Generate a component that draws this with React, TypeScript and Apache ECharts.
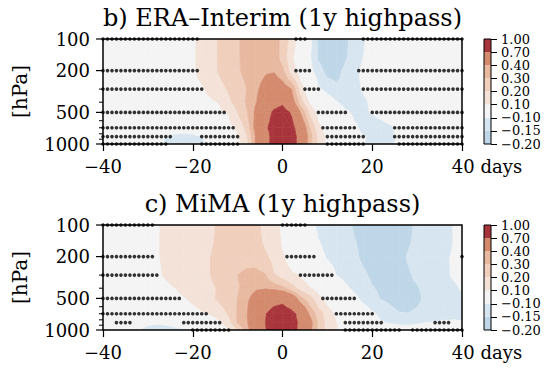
import React, { useEffect, useRef } from "react";
import * as echarts from "echarts";

// ---------- data ----------
const LAGS = [-40, -38, -36, -34, -32, -30, -28, -26, -24, -22, -20, -18, -16, -14, -12, -10, -8, -6, -4, -2, 0, 2, 4, 6, 8, 10, 12, 14, 16, 18, 20, 22, 24, 26, 28, 30, 32, 34, 36, 38, 40];
const LEVELS = [100, 150, 200, 300, 400, 500, 700, 850, 1000];
const CONTOUR_LEVELS = [-0.2, -0.15, -0.1, 0.1, 0.2, 0.3, 0.4, 0.7, 1.0];
const CONTOUR_LABELS = ["\u22120.20", "\u22120.15", "\u22120.10", "0.10", "0.20", "0.30", "0.40", "0.70", "1.00"];
const BAND_COLORS = ["#bed6e7", "#d6e5f0", "#f4f4f4", "#f4e2d8", "#f0cfbd", "#e8b89f", "#d38a6d", "#a7343a"];
const Y_TICKS = [100, 200, 500, 1000];
const Y_MINOR_TICKS = [300, 400, 600, 700, 800, 900];
const TITLES = ["b) ERA\u2013Interim (1y highpass)", "c) MiMA (1y highpass)"];

// ERA-Interim field, one row per pressure level, lags -40..40 step 2
const era100 = [0.02, 0.02, 0.03, 0.03, 0.04, 0.04, 0.05, 0.06, 0.07, 0.08, 0.09, 0.12, 0.17, 0.21, 0.25, 0.29, 0.33, 0.36, 0.37, 0.35, 0.27, 0.16, 0.03, -0.08, -0.16, -0.19, -0.19, -0.16, -0.13, -0.105, -0.08, -0.06, -0.05, -0.04, -0.03, -0.03, -0.02, -0.02, -0.02, -0.01, -0.01];
const era150 = [0.02, 0.02, 0.03, 0.03, 0.04, 0.04, 0.05, 0.06, 0.07, 0.08, 0.09, 0.12, 0.17, 0.21, 0.25, 0.29, 0.33, 0.36, 0.38, 0.37, 0.26, 0.12, 0.02, -0.09, -0.155, -0.18, -0.18, -0.155, -0.13, -0.1, -0.08, -0.06, -0.05, -0.04, -0.03, -0.03, -0.02, -0.02, -0.02, -0.01, -0.01];
const era200 = [0.02, 0.02, 0.03, 0.03, 0.04, 0.04, 0.05, 0.06, 0.07, 0.08, 0.09, 0.12, 0.17, 0.21, 0.25, 0.29, 0.32, 0.35, 0.38, 0.39, 0.32, 0.15, 0.04, -0.08, -0.13, -0.165, -0.165, -0.14, -0.11, -0.09, -0.07, -0.05, -0.04, -0.04, -0.03, -0.03, -0.02, -0.02, -0.02, -0.01, -0.01];
const era300 = [0.02, 0.02, 0.03, 0.03, 0.04, 0.05, 0.05, 0.06, 0.07, 0.08, 0.085, 0.09, 0.12, 0.17, 0.21, 0.26, 0.3, 0.37, 0.45, 0.52, 0.48, 0.4, 0.16, 0.0, -0.09, -0.12, -0.14, -0.13, -0.115, -0.095, -0.08, -0.06, -0.05, -0.04, -0.03, -0.03, -0.02, -0.02, -0.02, -0.01, -0.01];
const era400 = [0.02, 0.02, 0.03, 0.03, 0.04, 0.05, 0.05, 0.06, 0.06, 0.07, 0.075, 0.08, 0.085, 0.105, 0.18, 0.24, 0.31, 0.39, 0.5, 0.62, 0.66, 0.48, 0.25, 0.09, 0.0, -0.06, -0.095, -0.12, -0.12, -0.11, -0.09, -0.07, -0.05, -0.04, -0.03, -0.03, -0.02, -0.02, -0.02, -0.01, -0.01];
const era500 = [0.02, 0.02, 0.02, 0.03, 0.03, 0.04, 0.04, 0.04, 0.05, 0.05, 0.06, 0.07, 0.08, 0.085, 0.105, 0.2, 0.29, 0.42, 0.58, 0.73, 0.8, 0.68, 0.4, 0.19, 0.06, 0.0, -0.05, -0.09, -0.11, -0.11, -0.095, -0.08, -0.06, -0.05, -0.04, -0.03, -0.03, -0.02, -0.02, -0.01, -0.01];
const era700 = [0.02, 0.02, 0.01, 0.01, 0.0, 0.0, -0.01, -0.04, -0.06, -0.07, -0.06, -0.03, 0.02, 0.04, 0.07, 0.12, 0.23, 0.44, 0.64, 0.8, 0.88, 0.78, 0.55, 0.31, 0.13, 0.04, -0.01, -0.05, -0.09, -0.115, -0.13, -0.125, -0.11, -0.08, -0.06, -0.04, -0.03, -0.02, -0.02, -0.01, -0.01];
const era850 = [0.01, 0.0, -0.01, -0.03, -0.05, -0.07, -0.09, -0.1, -0.115, -0.12, -0.115, -0.1, -0.07, -0.03, 0.03, 0.09, 0.19, 0.4, 0.56, 0.8, 0.92, 0.82, 0.6, 0.35, 0.17, 0.07, 0.01, -0.04, -0.08, -0.095, -0.115, -0.12, -0.11, -0.09, -0.06, -0.04, -0.03, -0.02, -0.02, -0.01, -0.01];
const era1000 = [0.01, 0.0, -0.01, -0.03, -0.05, -0.07, -0.09, -0.105, -0.12, -0.125, -0.12, -0.11, -0.09, -0.05, 0.02, 0.06, 0.15, 0.4, 0.57, 0.8, 0.92, 0.82, 0.6, 0.33, 0.17, 0.07, 0.01, -0.04, -0.08, -0.095, -0.115, -0.12, -0.11, -0.09, -0.06, -0.04, -0.03, -0.02, -0.02, -0.01, -0.01];

// MiMA field
const mima100 = [0.01, 0.02, 0.03, 0.04, 0.05, 0.07, 0.09, 0.12, 0.14, 0.16, 0.17, 0.18, 0.19, 0.21, 0.23, 0.24, 0.24, 0.22, 0.18, 0.14, 0.08, 0.02, -0.03, -0.08, -0.11, -0.125, -0.135, -0.145, -0.152, -0.16, -0.165, -0.165, -0.165, -0.16, -0.155, -0.145, -0.135, -0.125, -0.115, -0.1, -0.085];
const mima150 = [0.01, 0.02, 0.03, 0.04, 0.05, 0.07, 0.09, 0.12, 0.14, 0.16, 0.17, 0.18, 0.195, 0.21, 0.23, 0.25, 0.25, 0.23, 0.19, 0.15, 0.09, 0.04, -0.01, -0.06, -0.095, -0.115, -0.13, -0.14, -0.148, -0.155, -0.16, -0.165, -0.165, -0.158, -0.152, -0.145, -0.135, -0.125, -0.115, -0.1, -0.09];
const mima200 = [0.01, 0.02, 0.03, 0.04, 0.05, 0.065, 0.09, 0.12, 0.14, 0.16, 0.175, 0.19, 0.2, 0.22, 0.24, 0.26, 0.27, 0.26, 0.22, 0.17, 0.11, 0.05, 0.0, -0.04, -0.08, -0.105, -0.12, -0.135, -0.145, -0.155, -0.16, -0.165, -0.162, -0.156, -0.148, -0.14, -0.13, -0.12, -0.108, -0.095, -0.085];
const mima300 = [0.01, 0.02, 0.03, 0.04, 0.05, 0.065, 0.085, 0.11, 0.13, 0.15, 0.17, 0.185, 0.2, 0.24, 0.28, 0.3, 0.32, 0.33, 0.31, 0.21, 0.16, 0.12, 0.09, 0.04, 0.0, -0.06, -0.1, -0.12, -0.135, -0.145, -0.155, -0.16, -0.16, -0.158, -0.153, -0.145, -0.135, -0.125, -0.11, -0.095, -0.085];
const mima400 = [0.01, 0.02, 0.03, 0.035, 0.04, 0.05, 0.06, 0.08, 0.1, 0.12, 0.14, 0.16, 0.185, 0.21, 0.25, 0.29, 0.34, 0.38, 0.39, 0.37, 0.33, 0.24, 0.16, 0.11, 0.06, 0.02, -0.04, -0.085, -0.115, -0.135, -0.148, -0.155, -0.16, -0.16, -0.157, -0.152, -0.143, -0.13, -0.12, -0.11, -0.095];
const mima500 = [0.01, 0.01, 0.02, 0.03, 0.04, 0.05, 0.06, 0.07, 0.08, 0.095, 0.115, 0.14, 0.18, 0.22, 0.26, 0.3, 0.37, 0.46, 0.55, 0.62, 0.64, 0.53, 0.33, 0.24, 0.13, 0.06, 0.02, -0.03, -0.08, -0.12, -0.14, -0.152, -0.16, -0.165, -0.162, -0.155, -0.145, -0.135, -0.125, -0.115, -0.11];
const mima700 = [0.0, 0.0, 0.0, 0.0, 0.01, 0.02, 0.03, 0.04, 0.05, 0.06, 0.07, 0.09, 0.105, 0.15, 0.21, 0.31, 0.39, 0.55, 0.68, 0.78, 0.82, 0.77, 0.62, 0.39, 0.25, 0.15, 0.08, 0.03, -0.01, -0.05, -0.09, -0.115, -0.135, -0.148, -0.149, -0.145, -0.14, -0.13, -0.125, -0.12, -0.115];
const mima850 = [0.0, -0.02, -0.04, -0.05, -0.07, -0.085, -0.09, -0.085, -0.07, -0.05, -0.03, 0.0, 0.05, 0.08, 0.16, 0.31, 0.38, 0.55, 0.69, 0.8, 0.85, 0.8, 0.65, 0.46, 0.28, 0.16, 0.1, 0.04, 0.0, -0.04, -0.07, -0.095, -0.105, -0.11, -0.11, -0.105, -0.1, -0.095, -0.09, -0.09, -0.095];
const mima1000 = [-0.02, -0.04, -0.06, -0.08, -0.1, -0.12, -0.13, -0.13, -0.12, -0.105, -0.08, -0.05, -0.02, 0.03, 0.09, 0.2, 0.35, 0.52, 0.68, 0.8, 0.84, 0.79, 0.64, 0.44, 0.27, 0.17, 0.11, 0.05, 0.01, -0.02, -0.04, -0.06, -0.07, -0.075, -0.08, -0.08, -0.08, -0.075, -0.07, -0.07, -0.07];

const eraRows = [era100, era150, era200, era300, era400, era500, era700, era850, era1000];
const mimaRows = [mima100, mima150, mima200, mima300, mima400, mima500, mima700, mima850, mima1000];

// significance stippling: [level hPa, first lag, last lag], one dot per day
const eraStipple = [
  [100, -40, -19], [100, 3, 5], [100, 18, 40],
  [200, -40, -19], [200, 3, 6], [200, 17, 40],
  [300, -40, -18], [300, 5, 8], [300, 18, 40],
  [500, -40, -13], [500, 8, 14], [500, 20, 40],
  [700, -40, -11], [700, 9, 16], [700, 25, 40],
  [850, -40, -25], [850, -18, -10], [850, 10, 18], [850, 25, 40],
  [1000, -40, -26], [1000, -18, -10], [1000, 10, 18], [1000, 26, 40],
];
const mimaStipple = [
  [100, -40, -29], [100, 0, 5],
  [200, -40, -29], [200, 1, 7], [200, 40, 40],
  [300, -40, -28], [300, 4, 11],
  [500, -40, -23], [500, 9, 16],
  [700, -40, -17], [700, 12, 20],
  [850, -37, -34], [850, -22, -14], [850, 14, 22], [850, 34, 37],
  [1000, -20, -12], [1000, 14, 26], [1000, 29, 40],
];

// ---------- helpers ----------
const FONT = "DejaVu Serif";
type Pt = { x: number; p: number; v: number };

function bandOf(v: number) {
  let b = 0;
  for (let k = 1; k < CONTOUR_LEVELS.length - 1; k++) if (v >= CONTOUR_LEVELS[k]) b = k;
  return b;
}

function clipPoly(poly: Pt[], thr: number, above: boolean): Pt[] {
  const out: Pt[] = [];
  for (let k = 0; k < poly.length; k++) {
    const a = poly[k];
    const b = poly[(k + 1) % poly.length];
    const ina = above ? a.v >= thr : a.v < thr;
    const inb = above ? b.v >= thr : b.v < thr;
    if (ina) out.push(a);
    if (ina !== inb) {
      const t = (thr - a.v) / (b.v - a.v);
      out.push({ x: a.x + t * (b.x - a.x), p: a.p + t * (b.p - a.p), v: thr });
    }
  }
  return out;
}

const makeRender = (rows: number[][]) => (_params: any, api: any) => {
  const i = api.value(2) as number;
  const j = api.value(3) as number;
  const c: Pt[] = [
    { x: LAGS[i], p: LEVELS[j], v: rows[j][i] },
    { x: LAGS[i + 1], p: LEVELS[j], v: rows[j][i + 1] },
    { x: LAGS[i + 1], p: LEVELS[j + 1], v: rows[j + 1][i + 1] },
    { x: LAGS[i], p: LEVELS[j + 1], v: rows[j + 1][i] },
  ];
  const toPx = (q: Pt) => api.coord([q.x, q.p]);
  const bands = c.map((q) => bandOf(q.v));
  const bmin = Math.min(...bands);
  const bmax = Math.max(...bands);
  const children: any[] = [];
  const push = (poly: Pt[], b: number) =>
    children.push({
      type: "polygon",
      shape: { points: poly.map(toPx) },
      style: { fill: BAND_COLORS[b], stroke: BAND_COLORS[b], lineWidth: 0.6 },
    });
  if (bmin === bmax) {
    push(c, bmin);
  } else {
    const m: Pt = {
      x: (c[0].x + c[1].x) / 2,
      p: (c[0].p + c[3].p) / 2,
      v: (c[0].v + c[1].v + c[2].v + c[3].v) / 4,
    };
    for (let k = 0; k < 4; k++) {
      const tri = [c[k], c[(k + 1) % 4], m];
      for (let b = bmin; b <= bmax; b++) {
        let poly = b > 0 ? clipPoly(tri, CONTOUR_LEVELS[b], true) : tri;
        if (b < BAND_COLORS.length - 1) poly = clipPoly(poly, CONTOUR_LEVELS[b + 1], false);
        if (poly.length >= 3) push(poly, b);
      }
    }
  }
  return { type: "group", children };
};

function cells() {
  const out: number[][] = [];
  for (let j = 0; j < LEVELS.length - 1; j++)
    for (let i = 0; i < LAGS.length - 1; i++) out.push([LAGS[i], LEVELS[j], i, j]);
  return out;
}

function stipplePoints(runs: number[][]) {
  const pts: number[][] = [];
  runs.forEach(([p, a, b]) => {
    for (let l = a; l <= b; l++) pts.push([l, p]);
  });
  return pts;
}

const PANEL_TOPS = [39, 225];

export default function App() {
  const ref = useRef<HTMLDivElement>(null);
  useEffect(() => {
    if (!ref.current) return;
    const chart = echarts.init(ref.current, null, { renderer: "svg" });
    const fields = [eraRows, mimaRows];
    const stipples = [eraStipple, mimaStipple];

    const grid: any[] = [];
    const xAxis: any[] = [];
    const yAxis: any[] = [];
    const series: any[] = [];

    PANEL_TOPS.forEach((top, k) => {
      grid.push({ left: 103, top, width: 359, height: 105, show: true, borderColor: "#000", borderWidth: 1.5, backgroundColor: "transparent", z: 10 });
      xAxis.push({
        type: "value", gridIndex: k, min: -40, max: 40, interval: 20,
        axisLine: { show: false }, splitLine: { show: false },
        axisTick: { show: true, length: 7, lineStyle: { color: "#000", width: 1.2 } },
        axisLabel: {
          margin: 13, color: "#000", fontFamily: FONT, fontSize: 18,
          formatter: (v: number) => (v === 40 ? "{pad| }40 days" : v < 0 ? "\u2212" + Math.abs(v) : String(v)),
          rich: { pad: { width: 50 } },
        },
      });
      yAxis.push({
        type: "log", logBase: 10, gridIndex: k, min: 100, max: 1000, inverse: true,
        axisLine: { show: false }, axisTick: { show: false }, axisLabel: { show: false }, splitLine: { show: false },
        name: "[hPa]", nameLocation: "middle", nameGap: 73, nameRotate: 90,
        nameTextStyle: { fontFamily: FONT, fontSize: 20, color: "#000" },
      });
    });
    PANEL_TOPS.forEach((top, k) => {
      grid.push({ left: 484, top, width: 7, height: 105, show: true, borderColor: "#000", borderWidth: 1, backgroundColor: "transparent", z: 10 });
      xAxis.push({ type: "category", gridIndex: 2 + k, data: [""], show: false });
      yAxis.push({
        type: "value", gridIndex: 2 + k, min: 0, max: 8, interval: 1, position: "right",
        axisLine: { show: false }, splitLine: { show: false },
        axisTick: { show: true, length: 6, lineStyle: { color: "#000", width: 1 } },
        axisLabel: { show: false },
      });
    });

    [0, 1].forEach((k) => {
      series.push({
        type: "custom", xAxisIndex: k, yAxisIndex: k, renderItem: makeRender(fields[k]),
        data: cells(), encode: { x: 0, y: 1 }, clip: true, silent: true, z: 1,
      });
      series.push({
        type: "scatter", xAxisIndex: k, yAxisIndex: k, data: stipplePoints(stipples[k]),
        symbol: "circle", symbolSize: 3.6, itemStyle: { color: "#000" }, silent: true, z: 3,
      });
      BAND_COLORS.forEach((col) => {
        series.push({
          type: "bar", xAxisIndex: 2 + k, yAxisIndex: 2 + k, stack: "cb" + k, data: [1],
          barWidth: "100%", itemStyle: { color: col }, silent: true,
        });
      });
    });

    chart.setOption({ animation: false, grid, xAxis, yAxis, series });

    const graphic: any[] = [];
    [0, 1].forEach((k) => {
      const x0 = chart.convertToPixel({ xAxisIndex: k }, -40) as number;
      const x1 = chart.convertToPixel({ xAxisIndex: k }, 40) as number;
      Y_TICKS.forEach((p) => {
        const y = chart.convertToPixel({ yAxisIndex: k }, p) as number;
        graphic.push({ type: "line", shape: { x1: x0 - 7, y1: y, x2: x0, y2: y }, style: { stroke: "#000", lineWidth: 1.2 } });
        graphic.push({
          type: "text", x: x0 - 13, y,
          style: { text: String(p), fill: "#000", fontFamily: FONT, fontSize: 18, align: "right", verticalAlign: "middle", textAlign: "right", textVerticalAlign: "middle" },
        });
      });
      Y_MINOR_TICKS.forEach((p) => {
        const y = chart.convertToPixel({ yAxisIndex: k }, p) as number;
        graphic.push({ type: "line", shape: { x1: x0 - 4, y1: y, x2: x0, y2: y }, style: { stroke: "#000", lineWidth: 1 } });
      });
      const yTop = chart.convertToPixel({ yAxisIndex: k }, 100) as number;
      graphic.push({
        type: "text", x: (x0 + x1) / 2, y: yTop - 21,
        style: { text: TITLES[k], fill: "#000", fontFamily: FONT, fontSize: 24, align: "center", verticalAlign: "middle", textAlign: "center", textVerticalAlign: "middle" },
      });
      // colorbar labels at band boundaries
      CONTOUR_LABELS.forEach((lab, idx) => {
        const y = chart.convertToPixel({ yAxisIndex: 2 + k }, idx) as number;
        graphic.push({
          type: "text", x: 501, y,
          style: { text: lab, fill: "#000", fontFamily: FONT, fontSize: 13, align: "left", verticalAlign: "middle", textAlign: "left", textVerticalAlign: "middle" },
        });
      });
    });
    chart.setOption({ graphic });

    return () => chart.dispose();
  }, []);
  return <div ref={ref} style={{ position: "fixed", left: 0, top: 0, width: 556, height: 372, background: "#fff" }} />;
}
